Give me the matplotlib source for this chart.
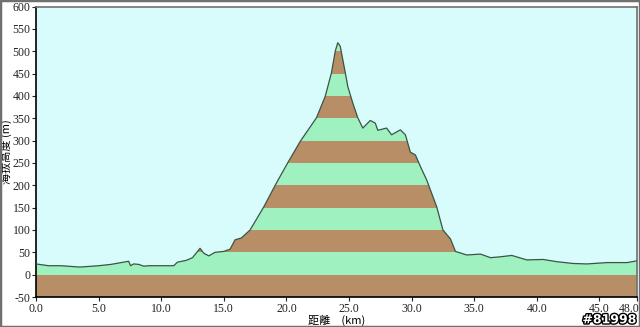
import numpy as np
import matplotlib.pyplot as plt
import matplotlib.patheffects as pe
from matplotlib.patches import Rectangle
from matplotlib.transforms import ScaledTranslation

# elevation profile
dist_km = [0.0, 0.5, 1.0, 2.0, 3.0, 3.5, 4.0, 5.0, 6.0, 7.0, 7.4, 7.55, 7.8, 8.2,
           8.6, 9.0, 10.0, 11.0, 11.3, 12.0, 12.5, 13.1, 13.4, 13.8, 14.3, 15.0,
           15.5, 15.9, 16.4, 17.1, 18.2, 19.2, 20.1, 21.1, 22.4, 23.1, 23.6, 23.9,
           24.1, 24.3, 24.8, 24.9, 25.3, 25.7, 26.1, 26.7, 27.1, 27.3, 28.0, 28.4,
           29.1, 29.5, 29.9, 30.3, 30.7, 31.2, 32.0, 32.5, 33.1, 33.5, 34.4, 35.5,
           36.3, 37.1, 38.0, 39.2, 40.5, 41.6, 42.9, 44.0, 45.6, 47.2, 48.0]
elev_m = [24, 22, 20, 20, 18, 17, 18, 20, 23, 28, 30, 20, 24, 23,
          19, 20, 20, 20, 28, 32, 38, 59, 48, 42, 50, 52,
          57, 78, 82, 100, 152, 205, 250, 298, 351, 399, 452, 500,
          519, 511, 437, 421, 384, 351, 328, 345, 339, 323, 328, 313,
          324, 313, 274, 268, 242, 212, 152, 100, 80, 52, 44, 46,
          38, 40, 43, 33, 34, 29, 25, 24, 27, 27, 31]

x_ticks = [0, 5, 10, 15, 20, 25, 30, 35, 40, 45, 48]
y_ticks = list(range(-50, 601, 50))

BG = '#d8fcfc'
GREEN = '#9ff2bf'
BROWN = '#b88e66'
LINE = '#3b5446'

fig = plt.figure(figsize=(6.4, 3.27), dpi=100)
fig.patch.set_facecolor('white')
ax = fig.add_axes([36 / 640, 1 - 297 / 327, 601 / 640, 290.5 / 327])
ax.set_facecolor(BG)

# terrain polygon, used to clip the colour bands
poly = ax.fill_between(dist_km, -50, elev_m, color=GREEN, lw=0, zorder=1)
clip = poly.get_paths()[0]
for i, lo in enumerate(range(-50, 600, 50)):
    col = BROWN if i % 2 == 0 else GREEN
    band = ax.axhspan(lo, lo + 50, color=col, lw=0, zorder=2)
    band.set_clip_path(clip, ax.transData)
ax.plot(dist_km, elev_m, color=LINE, lw=0.9, zorder=3)

ax.set_xlim(0, 48)
ax.set_ylim(-50, 600)
ax.set_xticks(x_ticks)
ax.set_xticklabels([f'{v:.1f}' for v in x_ticks])
ax.set_yticks(y_ticks)
ax.set_yticklabels([str(v) for v in y_ticks])
ax.tick_params(labelsize=8.5, length=3, width=0.8, pad=1, colors='#222222')
for lab in ax.get_xticklabels() + ax.get_yticklabels():
    lab.set_family('Liberation Serif')
# last x label sits flush against the right edge
last = ax.get_xticklabels()[-1]
last.set_ha('right')
last.set_transform(last.get_transform() + ScaledTranslation(3 / 100, 0, fig.dpi_scale_trans))

for s in ['left', 'bottom']:
    ax.spines[s].set_color('black')
    ax.spines[s].set_linewidth(1.2)
for s in ['top', 'right']:
    ax.spines[s].set_color('#707070')
    ax.spines[s].set_linewidth(1.2)

ax.set_xlabel('距離　(km)', family=['Noto Sans CJK TC', 'DejaVu Sans'],
              fontsize=8, labelpad=0)
ax.set_ylabel('海拔高度 (m)', family=['Noto Sans CJK TC', 'DejaVu Sans'],
              fontsize=8, labelpad=0)

fig.text(0.994, 0.022, '#81998', ha='right', va='center', fontsize=9,
         fontweight='bold', color='white', family='DejaVu Sans',
         path_effects=[pe.withStroke(linewidth=2, foreground='black')])

fig.patches.append(Rectangle((0, 0), 1, 1, transform=fig.transFigure,
                             fill=False, edgecolor='#707070', lw=2.5))

fig.savefig('out.png', dpi=100)
